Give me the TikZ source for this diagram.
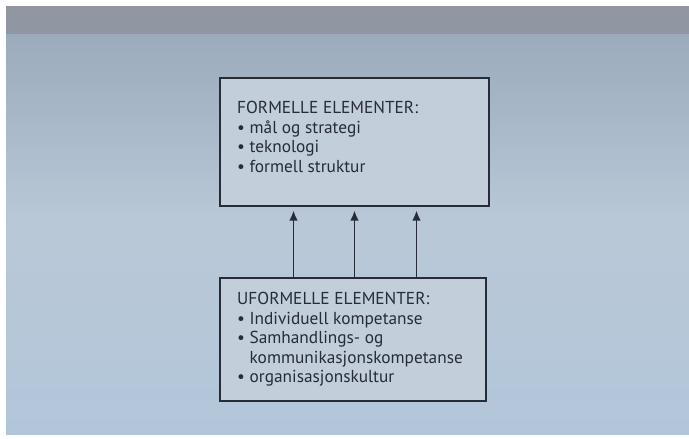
\documentclass[tikz,border=0pt]{standalone}
\usepackage{fontspec}
\setmainfont{PT Sans}
\usepackage{xcolor}
\usepackage{tikz}
\usetikzlibrary{arrows.meta,positioning,calc}

\definecolor{photobg}{HTML}{B9C8D7}
\definecolor{phototop}{HTML}{8F939C}
\definecolor{photoupper}{HTML}{97A6B8}
\definecolor{photolow}{HTML}{B2C6DA}
\definecolor{boxfill}{HTML}{C2CEDA}
\definecolor{inkline}{HTML}{262C38}

\begin{document}
\begin{tikzpicture}[
    x=1pt, y=-1pt,
    every node/.style={font=\fontsize{17.3}{19.6}\selectfont, text=inkline},
    elembox/.style={rectangle, draw=inkline, line width=2pt, fill=boxfill, anchor=north west, inner sep=0pt},
    elemtext/.style={anchor=north west, align=left, inner sep=0pt},
    pil/.style={-{Latex[length=10pt,width=8.5pt]}, draw=inkline, line width=1.8pt, shorten >=3.5pt}
]

% Photo background
\useasboundingbox (0,0) rectangle (689,439);
\fill[white] (0,0) rectangle (689,439);
\shade[top color=photoupper, bottom color=photolow, middle color=photobg] (6,6) rectangle (689,434);
\fill[phototop, opacity=0.8] (6,6) rectangle (689,34);

% Boxes
\node[elembox, minimum width=269pt, minimum height=128pt] (formelle) at (219,77) {};
\node[elembox, minimum width=266pt, minimum height=123pt] (uformelle) at (219,277) {};

% Box texts
\node[elemtext, below right=24pt and 18pt of formelle.north west] (formelleTxt)
    {FORMELLE ELEMENTER:\\
     • mål og strategi\\
     • teknologi\\
     • formell struktur};
\node[elemtext, below right=15pt and 18pt of uformelle.north west] (uformelleTxt)
    {UFORMELLE ELEMENTER:\\
     • Individuell kompetanse\\
     • Samhandlings- og\\
     \phantom{• }kommunikasjonskompetanse\\
     • organisasjonskultur};

% Arrows
\foreach \dx in {-61,0,62}
    \draw[pil] ($(formelle.south)+(\dx,0)$) coordinate (tip)
        (uformelle.north -| tip) -- (tip);

\end{tikzpicture}
\end{document}
